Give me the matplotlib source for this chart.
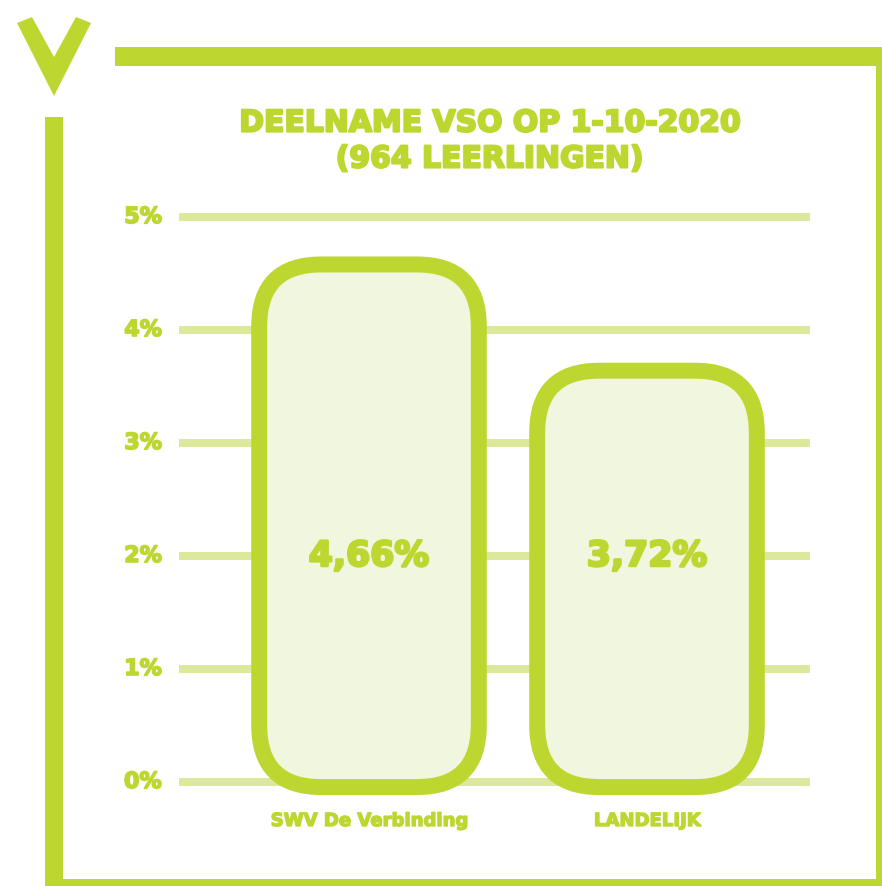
import numpy as np
from matplotlib import pyplot as plt
from matplotlib.patches import FancyBboxPatch, Rectangle, Polygon
import matplotlib.patheffects as pe

# data
categories = ['SWV De Verbinding', 'LANDELIJK']
values = [4.66, 3.72]
value_labels = ['4,66%', '3,72%']
yticks = [0, 1, 2, 3, 4, 5]
title = 'DEELNAME VSO OP 1-10-2020\n(964 LEERLINGEN)'

green = '#bed730'
pale = '#f1f6df'
grid_c = '#dce89c'

W, H = 882, 887
fig = plt.figure(figsize=(W / 100, H / 100), dpi=100)
fig.patch.set_facecolor('white')

# extra dikke letters (Montserrat ExtraBold is er niet)
def heavy(w):
    return [pe.withStroke(linewidth=w, foreground=green)]

# decoratie: kader en V-logo in pixelcoordinaten
bg = fig.add_axes([0, 0, 1, 1])
bg.set_xlim(0, W)
bg.set_ylim(H, 0)
bg.axis('off')
bg.add_patch(Rectangle((115, 48), W - 115, 19, color=green, lw=0))
bg.add_patch(Rectangle((876, 48), 6, H - 48, color=green, lw=0))
bg.add_patch(Rectangle((45, 118), 18, H - 118, color=green, lw=0))
bg.add_patch(Rectangle((45, 880), W - 45, 7, color=green, lw=0))
bg.add_patch(Polygon([(17, 24), (32, 18), (54, 58), (76, 18), (91, 24), (54, 97)],
                     closed=True, color=green, lw=0))

# grafiek: y=0 op 783 px, y=5 op 218 px; staven op x=0 en x=1
x0_px, x1_px = 179, 810
y0_px, y5_px = 783, 218
unit_x = 278.0
xmin = (x0_px - 369) / unit_x
xmax = (x1_px - 369) / unit_x
ax = fig.add_axes([x0_px / W, 1 - y0_px / H, (x1_px - x0_px) / W, (y0_px - y5_px) / H])
ax.set_xlim(xmin, xmax)
ax.set_ylim(0, 5)
ax.axis('off')
unit_y = (y0_px - y5_px) / 5.0

for t in yticks:
    ax.axhline(t, color=grid_c, lw=8 * 0.72, zorder=1, clip_on=False,
               solid_capstyle='butt')
    ax.text(xmin - 17 / unit_x, t, f'{t}%', ha='right', va='center',
            fontsize=16, fontweight='bold', color=green, path_effects=heavy(1.2))

bar_w = 0.79
radius = 62 / unit_x
for i, (v, lab, cat) in enumerate(zip(values, value_labels, categories)):
    bottom = -0.045
    p = FancyBboxPatch((i - bar_w / 2, bottom), bar_w, v - bottom - 0.08,
                       boxstyle=f'round,pad=0,rounding_size={radius}',
                       mutation_aspect=unit_x / unit_y,
                       facecolor=pale, edgecolor=green, lw=11.5, zorder=3,
                       clip_on=False)
    ax.add_patch(p)
    ax.text(i, 2, lab, ha='center', va='center', fontsize=25, fontweight='bold',
            color=green, zorder=4, path_effects=heavy(1.8))
    ax.text(i, -39 / unit_y, cat, ha='center', va='center', fontsize=13,
            fontweight='bold', color=green, path_effects=heavy(1.0))

fig.text(490 / W, 1 - 142 / H, title, ha='center', va='center', fontsize=21.5,
         fontweight='bold', color=green, linespacing=1.3, path_effects=heavy(1.6))

fig.savefig('out.png', dpi=100, facecolor='white')
